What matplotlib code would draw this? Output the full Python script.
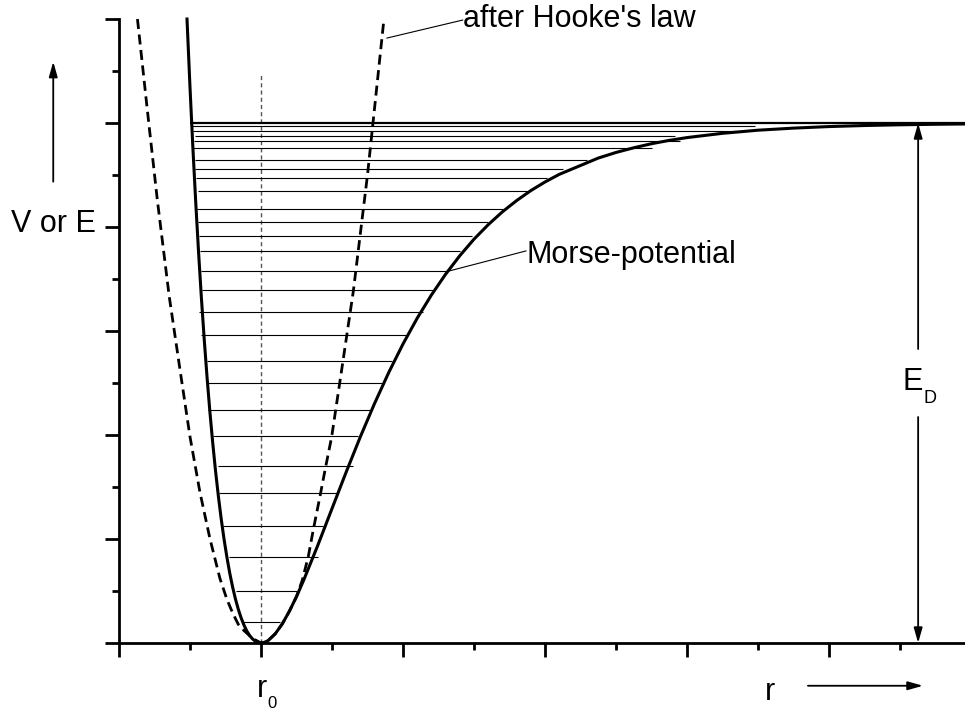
import matplotlib.pyplot as plt

plt.rcParams['font.family'] = ['Liberation Sans', 'DejaVu Sans']

# Morse potential (r in tick units, r0 = 1; V with E_D = 5)
morse_r = [0.479, 0.50, 0.52, 0.54, 0.56, 0.58, 0.60, 0.62, 0.64, 0.66, 0.68,
           0.70, 0.72, 0.74, 0.76, 0.78, 0.80, 0.82, 0.84, 0.86, 0.88, 0.90,
           0.92, 0.94, 0.96, 0.98, 1.00, 1.02, 1.05, 1.10, 1.15, 1.20, 1.25,
           1.30, 1.40, 1.50, 1.60, 1.70, 1.80, 1.90, 2.00, 2.10, 2.20, 2.30,
           2.40, 2.50, 2.60, 2.70, 2.80, 2.90, 3.00, 3.10, 3.375, 3.50, 3.625,
           3.75, 3.875, 4.00, 4.25, 4.50, 4.75, 5.00, 5.25, 5.50, 5.75, 5.958]
morse_V = [6.00, 5.345, 4.773, 4.249, 3.766, 3.326, 2.924, 2.558, 2.226, 1.926,
           1.654, 1.410, 1.192, 0.997, 0.825, 0.672, 0.539, 0.424, 0.325,
           0.242, 0.173, 0.116, 0.072, 0.040, 0.017, 0.004, 0.0, 0.004, 0.023,
           0.088, 0.184, 0.306, 0.446, 0.602, 0.939, 1.292, 1.644, 1.984,
           2.304, 2.602, 2.875, 3.123, 3.346, 3.546, 3.724, 3.883, 4.022,
           4.146, 4.254, 4.350, 4.433, 4.506, 4.663, 4.717, 4.762, 4.801,
           4.833, 4.860, 4.901, 4.931, 4.951, 4.966, 4.976, 4.983, 4.988,
           4.991]

# harmonic (Hooke) curve, dashed
hooke_r = [0.130, 0.200, 0.270, 0.354, 0.430, 0.500, 0.570, 0.641, 0.711,
           0.760, 0.800, 0.840, 0.880, 0.920, 0.960, 1.000, 1.050, 1.100,
           1.150, 1.200, 1.250, 1.290, 1.333, 1.368, 1.415, 1.451, 1.498,
           1.533, 1.568, 1.650, 1.750, 1.866]
hooke_V = [6.00, 5.12, 4.26, 3.33, 2.625, 1.984, 1.45, 1.00, 0.62, 0.42, 0.29,
           0.18, 0.12, 0.07, 0.03, 0.0, 0.023, 0.088, 0.184, 0.306, 0.446,
           0.60, 0.83, 1.087, 1.407, 1.663, 1.984, 2.305, 2.625, 3.38, 4.50,
           6.00]

# vibrational levels: energy, left end, right end
level_E = [0.199, 0.503, 0.827, 1.122, 1.442, 1.702, 1.987, 2.240, 2.497,
           2.714, 2.964, 3.186, 3.394, 3.577, 3.766, 3.911, 4.048, 4.176,
           4.346, 4.471, 4.558, 4.647, 4.760, 4.830, 4.878, 4.923, 4.974]
level_left = [0.871, 0.822, 0.772, 0.734, 0.706, 0.699, 0.660, 0.624, 0.627,
              0.617, 0.577, 0.565, 0.587, 0.577, 0.570, 0.565, 0.554, 0.551,
              0.558, 0.542, 0.535, 0.535, 0.523, 0.528, 0.535, 0.523, 0.505]
level_right = [1.134, 1.254, 1.401, 1.437, 1.535, 1.648, 1.683, 1.768, 1.852,
               1.923, 2.028, 2.141, 2.211, 2.317, 2.401, 2.486, 2.599, 2.704,
               2.873, 3.014, 3.127, 3.296, 3.754, 3.95, 3.915, 4.35, 4.479]
E_D = 5.0
r0 = 1.0

fig = plt.figure(figsize=(9.65, 7.13), dpi=100)
ax = fig.add_axes([0, 0, 1, 1])
ax.set_xlim(-0.838, 5.958)
ax.set_ylim(-0.673, 6.183)

# axes: only left and bottom, crossing at the origin
for side in ['top', 'right']:
    ax.spines[side].set_visible(False)
ax.spines['left'].set_position(('data', 0))
ax.spines['bottom'].set_position(('data', 0))
ax.spines['left'].set_bounds(0, 6)
ax.spines['bottom'].set_bounds(0, 5.958)
for side in ['left', 'bottom']:
    ax.spines[side].set_linewidth(2.0)

ax.set_xticks(range(0, 6))
ax.set_xticks([0.5, 1.5, 2.5, 3.5, 4.5, 5.5], minor=True)
ax.set_yticks(range(0, 7))
ax.set_yticks([0.5, 1.5, 2.5, 3.5, 4.5, 5.5], minor=True)
ax.set_xticklabels([])
ax.set_yticklabels([])
ax.tick_params(which='major', direction='out', length=10, width=2.0)
ax.tick_params(which='minor', direction='out', length=5, width=2.0)

# r0 marker
ax.plot([r0, r0], [0, 5.47], color='#555555', lw=1.0, dashes=(3, 2.2))

# levels
ax.hlines(level_E, level_left, level_right, color='black', lw=0.8)
ax.hlines(E_D, 0.50, 5.958, color='black', lw=1.6)

ax.plot(hooke_r, hooke_V, color='black', lw=2.0, dashes=(3.6, 2.0))
ax.plot(morse_r, morse_V, color='black', lw=2.2)

# labels
fs = 22
arrow_props = dict(arrowstyle='-|>,head_length=0.6,head_width=0.17',
                   mutation_scale=15, color='black', lw=1.3,
                   shrinkA=0, shrinkB=0)

ax.text(-0.162, 3.952, 'V or E', fontsize=fs, ha='right', va='baseline')
ax.annotate('', xy=(-0.463, 5.59), xytext=(-0.463, 4.436),
            arrowprops=arrow_props)

ax.text(0.972, -0.519, 'r', fontsize=fs, ha='left', va='baseline')
ax.text(1.042, -0.625, '0', fontsize=12, ha='left', va='baseline')

ax.text(4.549, -0.548, 'r', fontsize=fs, ha='left', va='baseline')
ax.annotate('', xy=(5.662, -0.411), xytext=(4.852, -0.411),
            arrowprops=arrow_props)

# E_D double arrow with gap for the label
arrow_x = 5.628
ax.annotate('', xy=(arrow_x, E_D), xytext=(arrow_x, 2.827),
            arrowprops=arrow_props)
ax.annotate('', xy=(arrow_x, 0), xytext=(arrow_x, 2.173),
            arrowprops=arrow_props)
ax.text(5.521, 2.433, 'E', fontsize=fs, ha='left', va='baseline')
ax.text(5.669, 2.308, 'D', fontsize=13, ha='left', va='baseline')

# callouts
ax.plot([2.324, 2.866], [3.577, 3.77], color='black', lw=0.8)
ax.text(2.87, 3.654, 'Morse-potential', fontsize=fs, ha='left', va='baseline')

ax.plot([1.887, 2.42], [5.817, 5.99], color='black', lw=0.8)
ax.text(2.42, 5.923, "after Hooke's law", fontsize=fs, ha='left',
        va='baseline')

fig.savefig('out.png', dpi=100)
